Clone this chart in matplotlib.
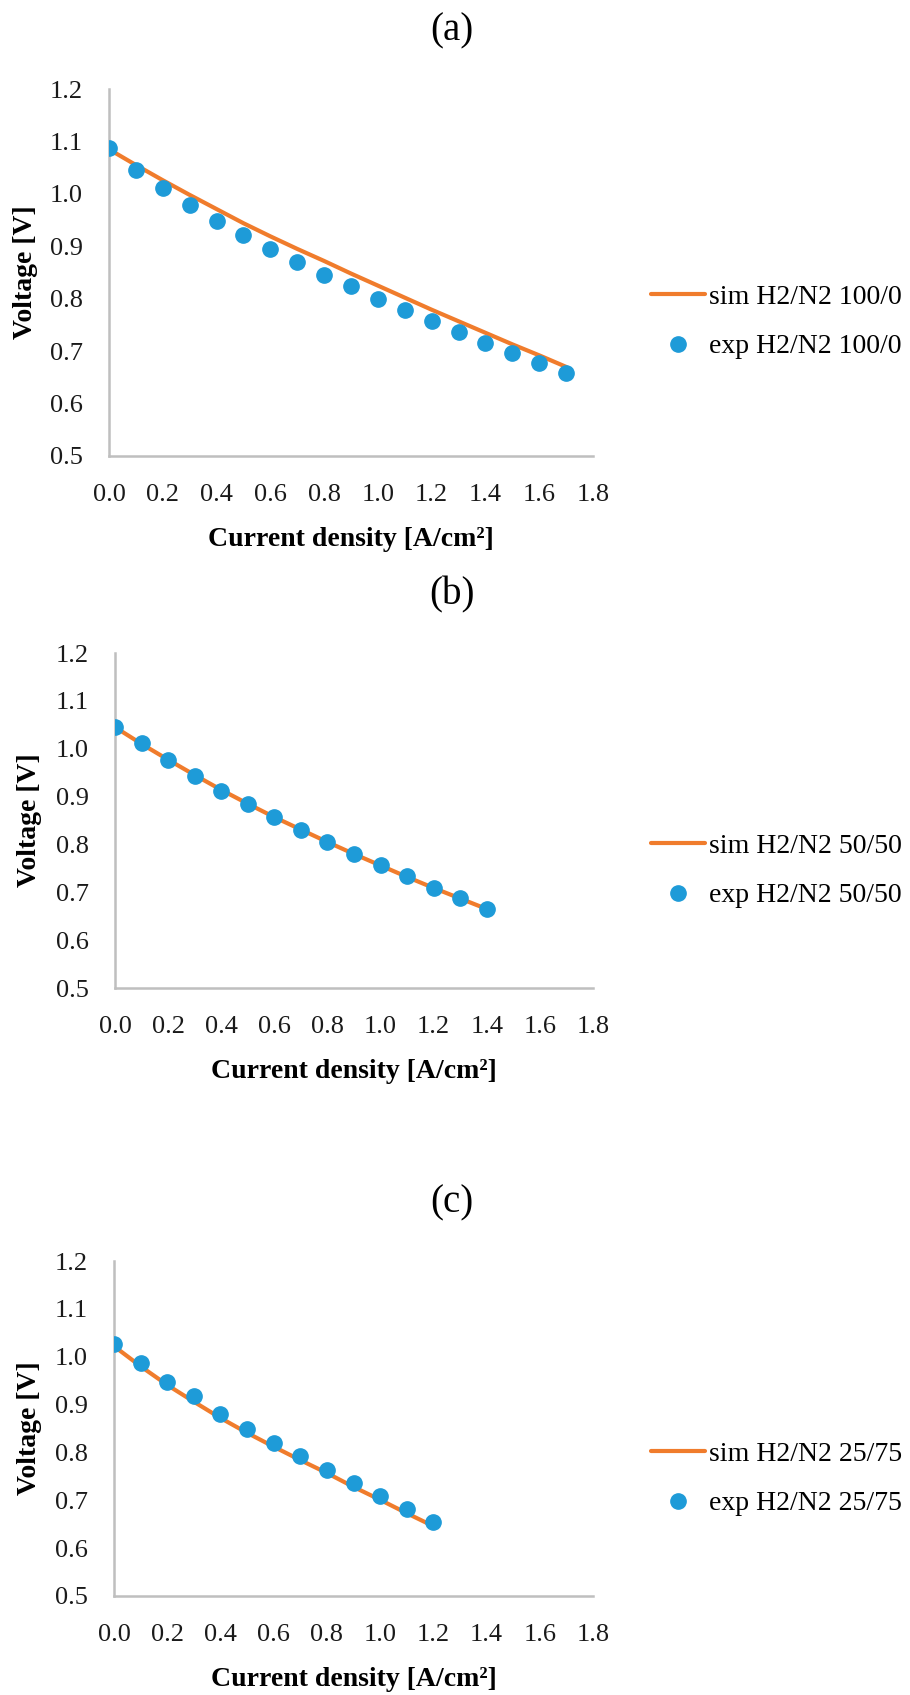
#!/usr/bin/env python3

import matplotlib
matplotlib.use("Agg")
import matplotlib.pyplot as plt

plt.rcParams['font.family'] = ['Liberation Serif', 'DejaVu Serif']

# current density [A/cm2]
j_a = [0.0, 0.1, 0.2, 0.3, 0.4, 0.5, 0.6, 0.7, 0.8, 0.9, 1.0, 1.1, 1.2, 1.3, 1.4, 1.5, 1.6, 1.7]
j_b = [0.0, 0.1, 0.2, 0.3, 0.4, 0.5, 0.6, 0.7, 0.8, 0.9, 1.0, 1.1, 1.2, 1.3, 1.4]
j_c = [0.0, 0.1, 0.2, 0.3, 0.4, 0.5, 0.6, 0.7, 0.8, 0.9, 1.0, 1.1, 1.2]

# H2/N2 100/0
sim_a = [1.085, 1.055, 1.026, 0.998, 0.971, 0.944, 0.919, 0.895, 0.872, 0.848,
         0.825, 0.802, 0.779, 0.757, 0.735, 0.713, 0.692, 0.670]
exp_a = [1.087, 1.046, 1.011, 0.979, 0.949, 0.922, 0.895, 0.870, 0.846, 0.824,
         0.800, 0.779, 0.757, 0.737, 0.716, 0.697, 0.677, 0.658]

# H2/N2 50/50
sim_b = [1.045, 1.010, 0.977, 0.945, 0.914, 0.885, 0.857, 0.831, 0.805, 0.780,
         0.756, 0.732, 0.709, 0.687, 0.665]
exp_b = [1.045, 1.012, 0.976, 0.944, 0.912, 0.885, 0.857, 0.831, 0.805, 0.781,
         0.756, 0.733, 0.710, 0.688, 0.666]

# H2/N2 25/75
sim_c = [1.022, 0.980, 0.941, 0.906, 0.872, 0.841, 0.812, 0.784, 0.757, 0.728,
         0.701, 0.673, 0.646]
exp_c = [1.026, 0.986, 0.947, 0.917, 0.881, 0.850, 0.820, 0.792, 0.764, 0.736,
         0.708, 0.681, 0.655]

panels = [
    ("(a)", "100/0", j_a, sim_a, exp_a),
    ("(b)", "50/50", j_b, sim_b, exp_b),
    ("(c)", "25/75", j_c, sim_c, exp_c),
]

x_ticks = [0.0, 0.2, 0.4, 0.6, 0.8, 1.0, 1.2, 1.4, 1.6, 1.8]
y_ticks = [0.5, 0.6, 0.7, 0.8, 0.9, 1.0, 1.1, 1.2]

orange = "#F07C2C"
blue = "#1E9BD8"
grey = "#BFBFBF"

W, H = 910, 1695

# plot box in pixels (left, right, top, bottom), title y, legend centre y, ylabel x
layout = [
    ((109, 593, 89, 456), 31, 322, 25),
    ((115, 593, 653, 988), 595, 871, 30),
    ((114, 593, 1261, 1596), 1203, 1479, 30),
]

fig = plt.figure(figsize=(W / 100, H / 100), dpi=100)

for (title, mix, j, sim, exp), (box, title_y, leg_y, ylab_x) in zip(panels, layout):
    l, r, t, b = box
    ax = fig.add_axes([l / W, 1 - b / H, (r - l) / W, (b - t) / H])
    ax.plot(j, sim, color=orange, lw=3.0, solid_capstyle='round',
            label=f"sim H2/N2 {mix}", zorder=2)
    ax.plot(j, exp, ls='none', marker='o', ms=11, color=blue,
            label=f"exp H2/N2 {mix}", zorder=3)
    ax.set_xlim(0, 1.8)
    ax.set_ylim(0.5, 1.2)
    ax.set_xticks(x_ticks)
    ax.set_yticks(y_ticks)
    ax.set_xticklabels([f"{v:.1f}" for v in x_ticks])
    ax.set_yticklabels([f"{v:.1f}" for v in y_ticks])
    ax.tick_params(length=0, labelsize=19, colors="#1a1a1a")
    ax.tick_params(axis='x', pad=20)
    ax.tick_params(axis='y', pad=19)
    for side in ["top", "right"]:
        ax.spines[side].set_visible(False)
    for side in ["left", "bottom"]:
        ax.spines[side].set_color(grey)
        ax.spines[side].set_linewidth(1.8)

    ax.set_xlabel("Current density [A/cm\u00b2]", fontsize=20, fontweight='bold', va='center')
    ax.xaxis.set_label_coords(0.5, -84 / (b - t))
    ax.set_ylabel("Voltage [V]", fontsize=20, fontweight='bold', va='center')
    ax.yaxis.set_label_coords((ylab_x - l) / (r - l), 0.5)

    fig.text(452 / W, 1 - title_y / H, title, fontsize=28, ha='center', va='center')
    ax.legend(loc='center left', bbox_to_anchor=(651 / W, 1 - leg_y / H),
              bbox_transform=fig.transFigure, frameon=False, fontsize=20,
              borderpad=0, borderaxespad=0, handlelength=1.95,
              handletextpad=0.15, labelspacing=0.85)

fig.savefig("out.png", dpi=100)
